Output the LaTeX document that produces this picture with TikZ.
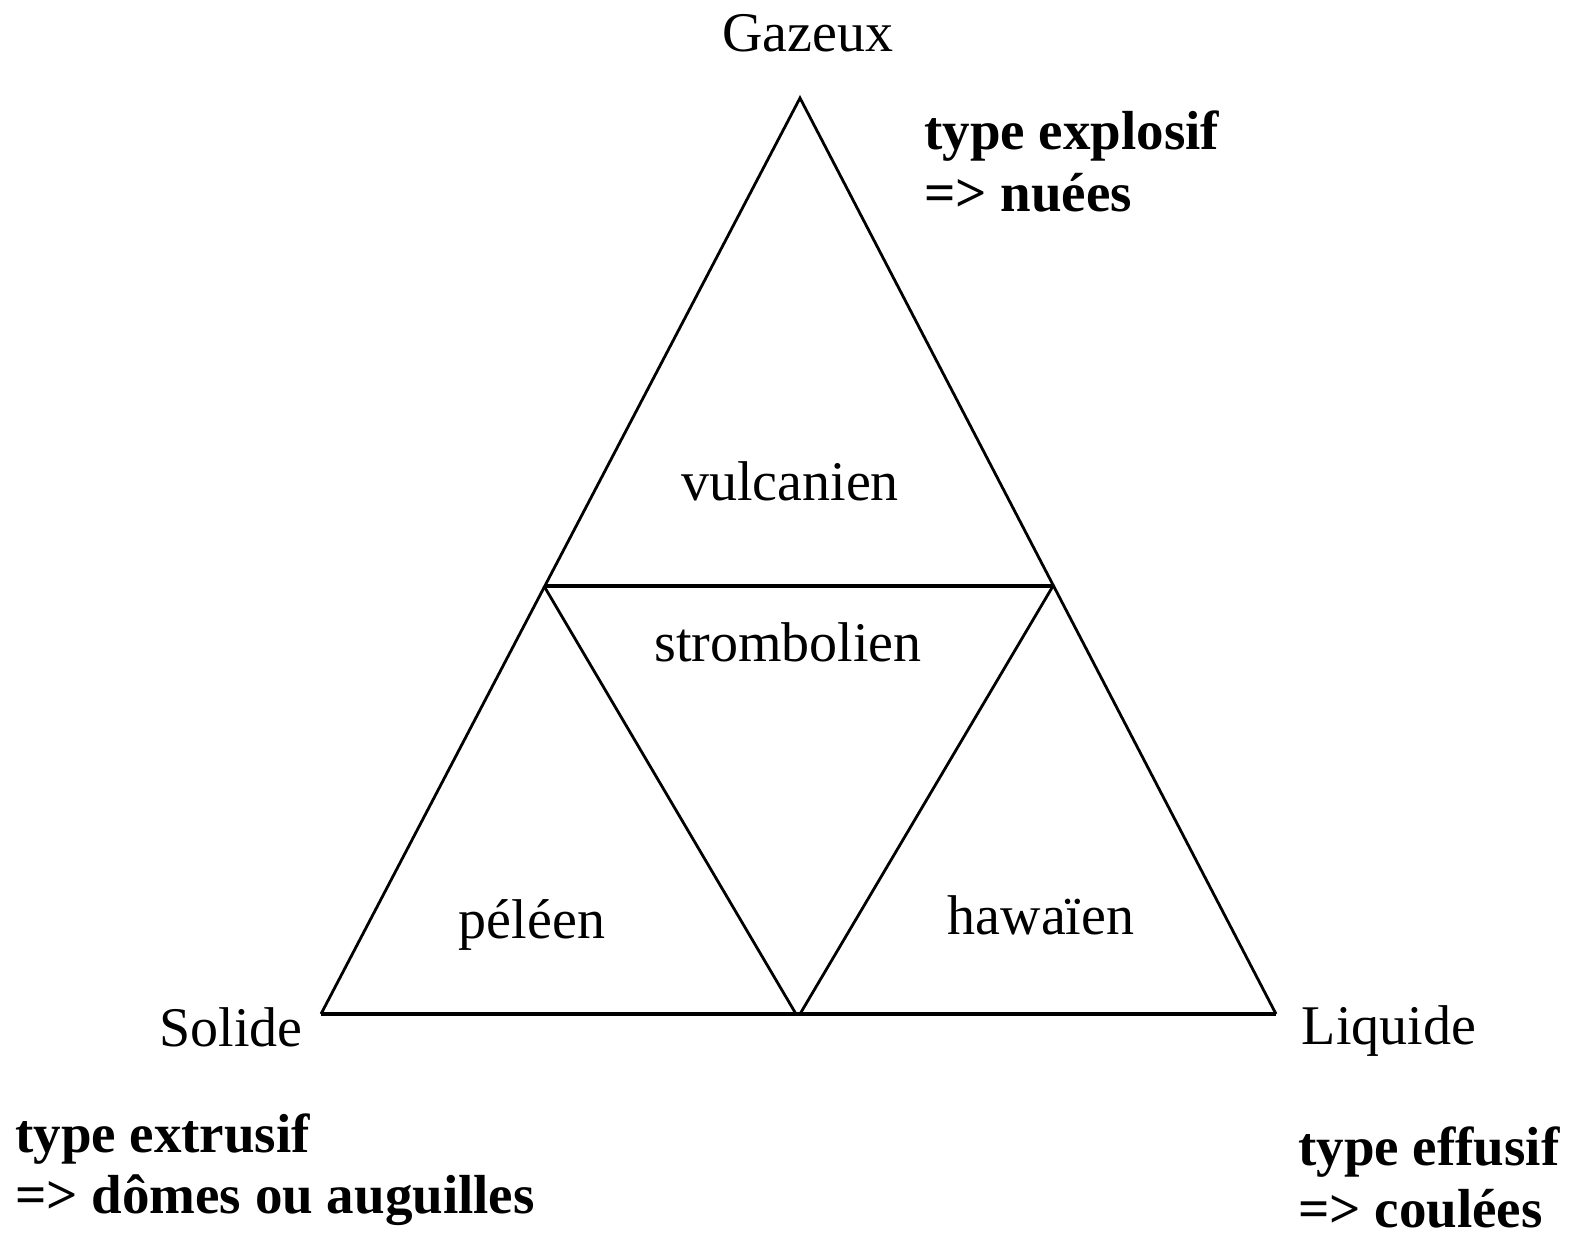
\documentclass[tikz,border=0pt]{standalone}
\usepackage{fontspec}
\setmainfont{Liberation Serif}
\begin{document}
\begin{tikzpicture}[x=1pt,y=-1pt,
  lbl/.style={inner sep=0pt,font=\fontsize{56}{62}\selectfont},
  blbl/.style={inner sep=0pt,align=left,font=\fontsize{55}{62}\selectfont\bfseries},
  diag/.style={line width=2.8pt},
  horiz/.style={line width=4.5pt}]
\useasboundingbox[fill=white] (0,0) rectangle (1575,1239);
% vertices
\coordinate (A) at (800,98);
\coordinate (B) at (321,1014);
\coordinate (C) at (1276,1014);
\coordinate (L) at (544,586);
\coordinate (R) at (1053,586);
\coordinate (M1) at (796,1014);
\coordinate (M2) at (800,1014);
% outer triangle
\draw[diag] (B) -- (A) -- (C);
\draw[horiz] (B) -- (C);
\draw[horiz] (L) -- (R);
\draw[diag] (L) -- (M1);
\draw[diag] (R) -- (M2);
% labels
\node[lbl,anchor=base] (gaz) at (808,52) {Gazeux};
\node[lbl,anchor=base] (vul) at (790,500) {vulcanien};
\node[lbl,anchor=base] (str) at (788,661) {strombolien};
\node[lbl,anchor=base] (pel) at (532,938) {péléen};
\node[lbl,anchor=base] (haw) at (1041,934) {hawaïen};
\node[lbl,anchor=base] (sol) at (231,1046) {Solide};
\node[lbl,anchor=base] (liq) at (1389,1044) {Liquide};
\node[blbl,anchor=base west] (exp1) at (924,149) {type explosif};
\node[blbl,anchor=base west] (exp2) at (924,211) {=> nuées};
\node[blbl,anchor=base west] (ext1) at (15,1152) {type extrusif};
\node[blbl,anchor=base west] (ext2) at (15,1213) {=> dômes ou auguilles};
\node[blbl,anchor=base west] (eff1) at (1298,1165) {type effusif};
\node[blbl,anchor=base west] (eff2) at (1298,1227) {=> coulées};
\end{tikzpicture}
\end{document}
